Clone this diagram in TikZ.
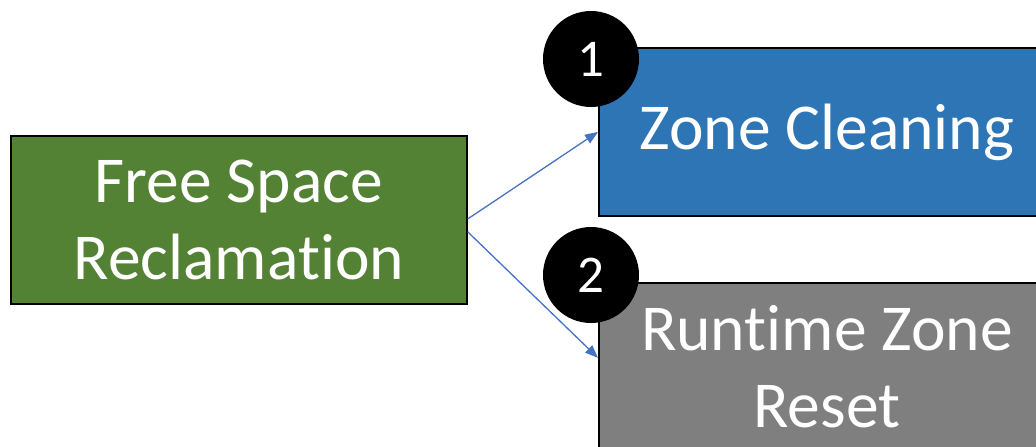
\documentclass[tikz,border=0pt]{standalone}
\usepackage{fontspec}
\setmainfont{Carlito}[Ligatures=NoCommon]
\usetikzlibrary{arrows.meta}
\definecolor{boxgreen}{HTML}{548235}
\definecolor{boxblue}{HTML}{2E75B6}
\definecolor{boxgray}{HTML}{7F7F7F}
\definecolor{linkblue}{HTML}{4472C4}
\tikzset{
  stagebox/.style={draw=black, line width=1.8pt, anchor=north west,
    minimum width=456pt, minimum height=168pt, inner sep=0pt,
    text=white, align=center, font=\fontsize{65.5}{77}\selectfont},
  badge/.style={circle, fill=black, minimum size=96pt, inner sep=0pt,
    text=white, font=\fontsize{53}{60}\selectfont},
  link/.style={draw=linkblue, line width=1.3pt, -{Triangle[length=13pt,width=10pt]}}
}
\begin{document}
\begin{tikzpicture}[x=1pt,y=-1pt]
  \useasboundingbox (0,0) rectangle (1036,447);
  \clip (0,0) rectangle (1036,447);
  \fill[white] (0,0) rectangle (1036,447);
  \node[stagebox, fill=boxgreen] (fsr) at (10,135) {Free Space\\Reclamation};
  \node[stagebox, fill=boxblue] (zc) at (598,47) {Zone Cleaning};
  \node[stagebox, fill=boxgray] (rzr) at (598,282) {Runtime Zone\\Reset};
  \node[badge] (b1) at (591,59) {1};
  \node[badge] (b2) at (591,275) {2};
  \draw[link] ([yshift=1pt]fsr.east) -- (zc.west);
  \draw[link] ([yshift=-12pt]fsr.east) -- ([yshift=9pt]rzr.west);
\end{tikzpicture}
\end{document}
